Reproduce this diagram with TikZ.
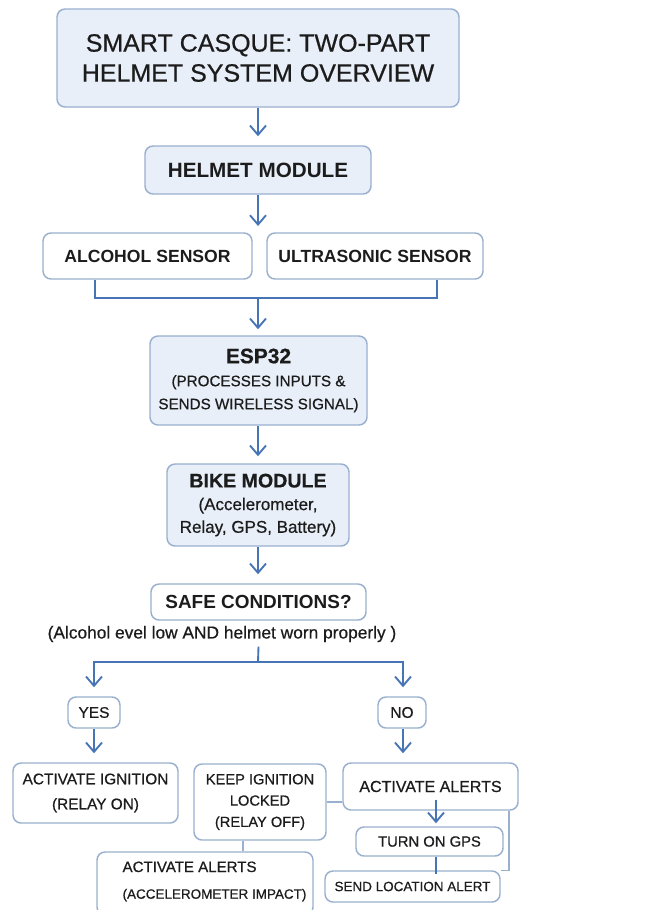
\documentclass[tikz,border=0pt]{standalone}
\usepackage{fontspec}
\setmainfont{Liberation Sans}
\newfontfamily\medfont{Liberation Sans}[FakeBold=0.6]
\usetikzlibrary{arrows.meta,calc}
\definecolor{bordc}{HTML}{9AB0CF}
\definecolor{fillb}{HTML}{E8EFF9}
\definecolor{fillw}{HTML}{FFFFFF}
\definecolor{arrc}{HTML}{4674B5}
\definecolor{txt}{HTML}{1C1C1C}
\newcommand{\fs}[2]{\fontsize{#1}{#2}\selectfont}
\tikzset{
 box/.style={draw=bordc, line width=1.1pt, rounded corners=6pt, fill=fillw, inner sep=0pt, align=center, text=txt},
 bluebox/.style={box, fill=fillb},
 arr/.style={draw=arrc, line width=1.4pt, -{Straight Barb[length=7pt,width=12pt]}},
 link/.style={draw=arrc, line width=1.4pt},
 glink/.style={draw=bordc, line width=1.1pt},
}
\begin{document}
\begin{tikzpicture}[x=0.75pt,y=-0.75pt]
\useasboundingbox (0,0) rectangle (650,910);
\fill[white] (0,0) rectangle (650,910);
\clip (0,0) rectangle (650,910);

\node[bluebox, minimum width=301.5pt, minimum height=73.5pt, font=\medfont\fs{18.75pt}{22.5pt}] (title) at (258,58) {SMART CASQUE: TWO-PART\\HELMET SYSTEM OVERVIEW};
\node[bluebox, minimum width=169.5pt, minimum height=36pt, font=\bfseries\fs{15.5pt}{18pt}] (helmet) at (258,170) {HELMET MODULE};
\node[box, minimum width=156.75pt, minimum height=34.5pt, font=\bfseries\fs{13.2pt}{16pt}] (alc) at (147.5,256) {ALCOHOL SENSOR};
\node[box, minimum width=162pt, minimum height=34.5pt, font=\bfseries\fs{13.2pt}{16pt}] (ult) at (375,256) {ULTRASONIC SENSOR};
\node[bluebox, minimum width=162.75pt, minimum height=66.75pt, font=\medfont\fs{11.4pt}{17.25pt}] (esp) at (258.5,380.5) {{\bfseries\fs{15.7pt}{18.75pt}ESP32}\\(PROCESSES INPUTS \&\\SENDS WIRELESS SIGNAL)};
\node[bluebox, minimum width=136.5pt, minimum height=61.5pt, font=\medfont\fs{12.75pt}{17pt}] (bike) at (258,505) {{\bfseries\fs{14.7pt}{17pt}BIKE MODULE}\\(Accelerometer,\\Relay, GPS, Battery)};
\node[box, minimum width=161.25pt, minimum height=27pt, font=\bfseries\fs{14.2pt}{17pt}] (safe) at (258.5,602) {SAFE CONDITIONS?};
\node[text=txt, inner sep=1pt, font=\medfont\fs{13pt}{15pt}] (note) at (222,634) {(Alcohol evel low AND helmet worn properly )};
\node[box, minimum width=39pt, minimum height=23.25pt, font=\medfont\fs{11.6pt}{14pt}] (yes) at (94,712.5) {YES};
\node[box, minimum width=36pt, minimum height=23.25pt, font=\medfont\fs{11.6pt}{14pt}] (no) at (402,712.5) {NO};
\node[box, minimum width=123.75pt, minimum height=45pt, font=\medfont\fs{11.55pt}{18.75pt}] (ign) at (95.5,793) {ACTIVATE IGNITION\\(RELAY ON)};
\node[box, minimum width=99pt, minimum height=57pt, font=\medfont\fs{11pt}{16pt}] (keep) at (260,802) {KEEP IGNITION\\LOCKED\\(RELAY OFF)};
\node[box, minimum width=131.25pt, minimum height=35.25pt, font=\medfont\fs{12pt}{14pt}] (alerts) at (430.5,786.5) {ACTIVATE ALERTS};
\node[box, minimum width=110.25pt, minimum height=21.75pt, font=\medfont\fs{11.1pt}{13pt}] (gps) at (429.5,841.5) {TURN ON GPS};
\node[box, minimum width=131.25pt, minimum height=23.25pt, font=\medfont\fs{10.1pt}{12pt}] (send) at (412.5,886.5) {SEND LOCATION ALERT};
\node[box, minimum width=162pt, minimum height=47.25pt] (acc) at (205,883.5) {};
\node[text=txt, inner sep=0pt, align=left, font=\medfont\fs{11.3pt}{20pt}] (acctext) at (214.5,881.5) {ACTIVATE ALERTS\\{\fs{10.1pt}{20pt}(ACCELEROMETER IMPACT)}};

\coordinate (hs) at (258,226);
\coordinate (bj) at (258,298);
\coordinate (split) at (258,662);
\coordinate (gx) at (436,0);
\coordinate (rx) at (509,0);
\coordinate (kx) at (243,0);

\draw[arr, shorten >=6.75pt] (title.south) -- (helmet.north);
\draw[arr] (helmet.south) -- (hs);
\draw[link] ($(alc.south)+(-52.5,0)$) |- (bj) -| ($(ult.south)+(62,0)$);
\draw[arr, shorten >=4.5pt] (bj) -- (esp.north -| bj);
\draw[arr, shorten >=5.25pt] (esp.south -| bike.north) -- (bike.north);
\draw[arr, shorten >=6.75pt] (bike.south) -- (bike.south |- safe.north);
\draw[link] ($(safe.south |- note.south)+(0,3)$) -- (split);
\draw[arr, shorten >=6.75pt] (split) -| (yes.north);
\draw[arr, shorten >=6.75pt] (split) -| ($(no.north)+(1,0)$);
\draw[arr, shorten >=6.75pt] (yes.south) -- (yes.south |- ign.north);
\draw[arr, shorten >=6.75pt] ($(no.south)+(1,0)$) -- ($(no.south |- alerts.north)+(1,0)$);
\draw[glink] (keep.east) -- (keep.east -| alerts.west);
\draw[arr, shorten >=2.25pt] ($(alerts.south -| gx)+(0,-11)$) -- (gps.north -| gx);
\draw[link] (gps.south -| gx) -- ($(send.north -| gx)+(0,4)$);
\draw[glink] (alerts.south -| rx) |- (send.north east);
\draw[glink] (keep.south -| kx) -- (acc.north -| kx);
\end{tikzpicture}
\end{document}
